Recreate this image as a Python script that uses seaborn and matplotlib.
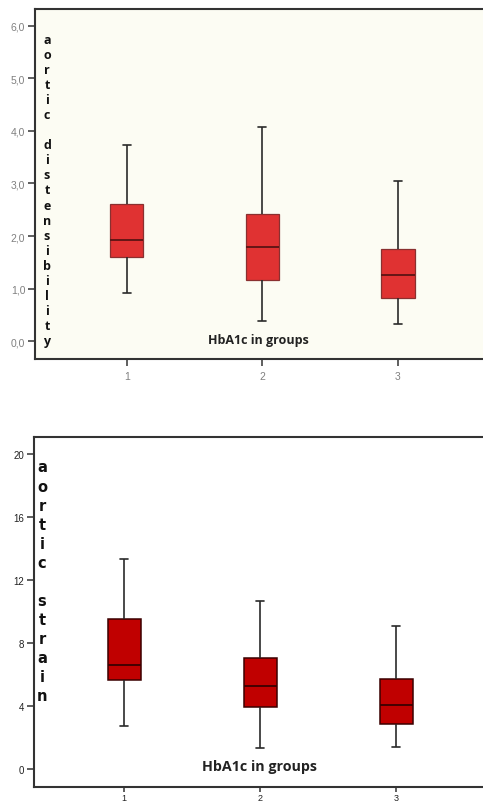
import matplotlib
matplotlib.use("Agg")
import matplotlib.pyplot as plt
import seaborn as sns
import pandas as pd

sns.set_theme(style="white")
plt.rcParams['font.family'] = ['Liberation Sans', 'DejaVu Sans']

# Data: five-number summaries per group (min, Q1, median, Q3, max)
groups = ["1", "2", "3"]
distensibility = {
    "1": [0.91, 1.61, 1.92, 2.60, 3.74],
    "2": [0.38, 1.16, 1.80, 2.41, 4.08],
    "3": [0.32, 0.83, 1.25, 1.76, 3.04],
}
strain = {
    "1": [2.68, 5.64, 6.60, 9.51, 13.32],
    "2": [1.30, 3.89, 5.23, 7.06, 10.66],
    "3": [1.38, 2.83, 4.04, 5.70, 9.06],
}
top_yticks = [0, 1, 2, 3, 4, 5, 6]
top_yticklabels = ["0,0", "1,0", "2,0", "3,0", "4,0", "5,0", "6,0"]
bot_yticks = [0, 4, 8, 12, 16, 20]
bot_yticklabels = ["0", "4", "8", "12", "16", "20"]


def to_df(d):
    rows = [(g, v) for g in groups for v in d[g]]
    return pd.DataFrame(rows, columns=["group", "value"])


W, H = 483, 804
fig = plt.figure(figsize=(W / 100, H / 100), dpi=100)
fig.patch.set_facecolor("white")


def px_axes(left, top, right, bottom):
    return fig.add_axes([left / W, 1 - bottom / H, (right - left) / W, (bottom - top) / H])


def draw(ax, df, fill, edge, med, face, ylim, xlim, yticks, yticklabels, tickcolor, tickfs, lw):
    sns.boxplot(data=df, x="group", y="value", order=groups, ax=ax, width=0.245,
                whis=(0, 100), color=fill, saturation=1, linewidth=lw, linecolor=edge,
                medianprops=dict(color=med, linewidth=1.3),
                whiskerprops=dict(color="#2a2a2a", linewidth=1.2),
                capprops=dict(color="#2a2a2a", linewidth=1.2),
                capwidths=0.06, showfliers=False)
    ax.set_facecolor(face)
    ax.set_ylim(*ylim)
    ax.set_xlim(*xlim)
    ax.set_yticks(yticks)
    ax.set_yticklabels(yticklabels)
    ax.set_xlabel("")
    ax.set_ylabel("")
    for s in ax.spines.values():
        s.set_visible(True)
        s.set_color("#333333")
        s.set_linewidth(1.5)
    ax.tick_params(axis="both", which="both", direction="out", length=5, width=1.1,
                   color="#333333", labelcolor=tickcolor, labelsize=tickfs,
                   left=True, bottom=True, pad=2)
    ax.grid(False)


# Top panel
ax1 = px_axes(35, 10, 505, 360)
draw(ax1, to_df(distensibility), "#e03232", "#8a3030", "#5a1414", "#fcfcf3",
     (-0.34, 6.32), (-0.677, 2.79), top_yticks, top_yticklabels, "#808080", 7.5, 0.9)
ax1.tick_params(axis="x", pad=4)

# Bottom panel
ax2 = px_axes(34, 438, 505, 788)
draw(ax2, to_df(strain), "#c00000", "#3a0000", "#3a0000", "#ffffff",
     (-1.17, 21.08), (-0.663, 2.80), bot_yticks, bot_yticklabels, "#222222", 7, 1.1)
ax2.tick_params(axis="x", length=3.5, pad=0.5, labelsize=6.5)

# In-plot labels
fig.text(258 / W, 1 - 341 / H, "HbA1c in groups", ha="center", va="center",
         fontsize=9, fontweight="bold", family=["Open Sans", "DejaVu Sans"], color="#222222")
fig.text(259 / W, 1 - 767 / H, "HbA1c in groups", ha="center", va="center",
         fontsize=10.3, fontweight="bold", family=["Open Sans", "DejaVu Sans"], color="#222222")

# Stacked vertical y labels
lab1 = "aortic distensibility"
for i, ch in enumerate(lab1):
    if ch == " ":
        continue
    fig.text(47 / W, 1 - (40 + i * 15.1) / H, ch, ha="center", va="center",
             fontsize=9, fontweight="bold", family=["Open Sans", "DejaVu Sans"], color="#111111")

lab2 = "aortic strain"
for i, ch in enumerate(lab2):
    if ch == " ":
        continue
    fig.text(42 / W, 1 - (468 + i * 19.08) / H, ch, ha="center", va="center",
             fontsize=10.5, fontweight="bold", family=["DejaVu Sans"], color="#111111")

fig.savefig("out.png", dpi=100, facecolor="white")
